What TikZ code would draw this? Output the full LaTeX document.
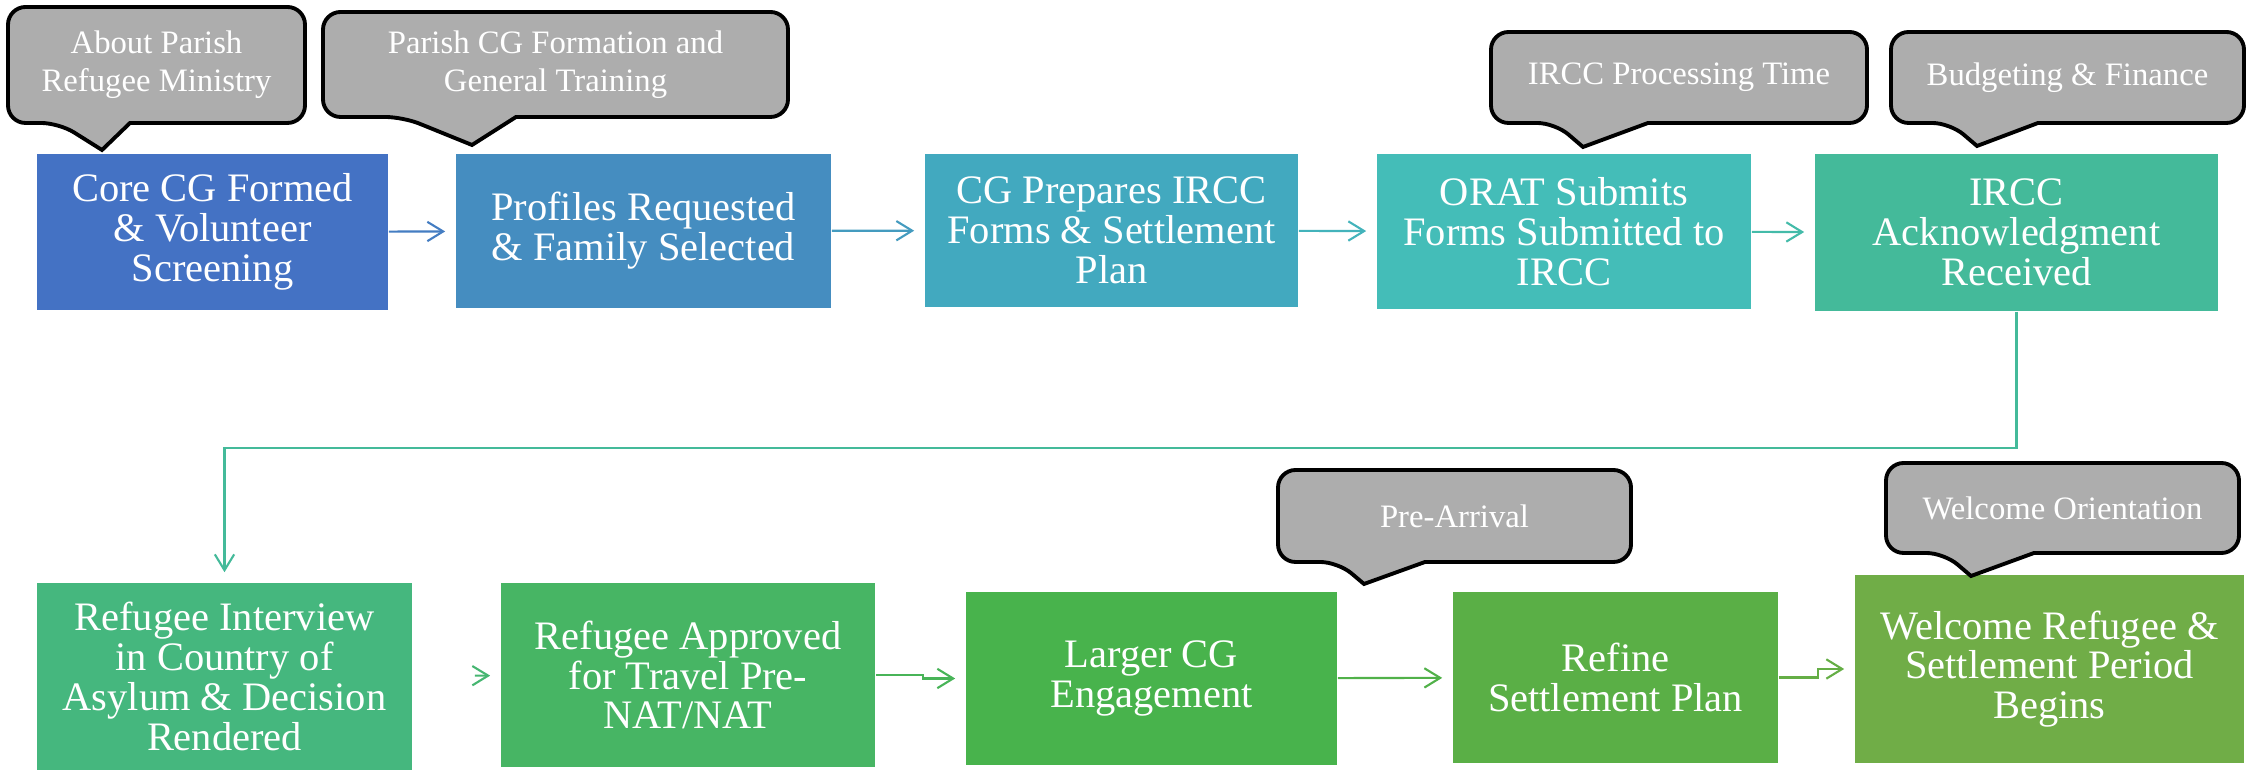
\documentclass[tikz,border=0pt]{standalone}
\usepackage{fontspec}
\setmainfont{Liberation Serif}
\usetikzlibrary{arrows.meta}

\definecolor{st1}{HTML}{4472C4}
\definecolor{st2}{HTML}{458DC0}
\definecolor{st3}{HTML}{42A9BF}
\definecolor{st4}{HTML}{44BDB8}
\definecolor{st5}{HTML}{44BA9A}
\definecolor{st6}{HTML}{45B77E}
\definecolor{st7}{HTML}{47B564}
\definecolor{st8}{HTML}{48B34C}
\definecolor{st9}{HTML}{5AAF46}
\definecolor{st10}{HTML}{70AD47}
\definecolor{notegray}{HTML}{ADADAD}

\begin{document}
\begin{tikzpicture}[x=0.01cm, y=-0.01cm,
  box/.style={fill=#1, text=white, inner sep=0pt, align=center, font=\fontsize{11.5}{11.3}\selectfont},
  bubble/.style={draw=black, fill=notegray, line width=1.1pt, rounded corners=5pt},
  say/.style={text=white, inner sep=0pt, align=center, font=\fontsize{9.3}{10.9}\selectfont},
  flow/.style={draw=#1, line width=0.6pt, -{Straight Barb[length=4.5pt,width=5.5pt]}, shorten >=0.1cm}]
\useasboundingbox (0,0) rectangle (2254,771);

\node[box=st1, minimum width=3.51cm, minimum height=1.56cm] (s1) at (212.5,232) {Core CG Formed\\\& Volunteer\\Screening};
\node[box=st2, minimum width=3.75cm, minimum height=1.54cm] (s2) at (643.5,231) {Profiles Requested\\\& Family Selected};
\node[box=st3, minimum width=3.73cm, minimum height=1.53cm] (s3) at (1111.5,230.5) {CG Prepares IRCC\\Forms \& Settlement\\Plan};
\node[box=st4, minimum width=3.74cm, minimum height=1.55cm] (s4) at (1564,231.5) {ORAT Submits\\Forms Submitted to\\IRCC};
\node[box=st5, minimum width=4.03cm, minimum height=1.57cm] (s5) at (2016.5,232.5) {IRCC\\Acknowledgment\\Received};
\node[box=st6, minimum width=3.75cm, minimum height=1.87cm] (s6) at (224.5,676.5) {Refugee Interview\\in Country of\\Asylum \& Decision\\Rendered};
\node[box=st7, minimum width=3.74cm, minimum height=1.84cm] (s7) at (688,675) {Refugee Approved\\for Travel Pre-\\NAT/NAT};
\node[box=st8, minimum width=3.71cm, minimum height=1.73cm] (s8) at (1151.5,678.5) {Larger CG\\Engagement};
\node[box=st9, minimum width=3.25cm, minimum height=1.71cm] (s9) at (1615.5,677.5) {Refine\\Settlement Plan};
\node[box=st10, minimum width=3.89cm, minimum height=1.88cm] (s10) at (2049.5,669) {Welcome Refugee \&\\Settlement Period\\Begins};

\draw[bubble] (156,7) -| (8,123) -- (59,123) [sharp corners] -- (102,150) -- (130,123) -- (200,123) [rounded corners=5pt] -| (305,7) -- cycle;
\node[say] (n1) at (156.5,65) {About Parish\\Refugee Ministry};
\draw[bubble] (555,12) -| (323,117) -- (403,117) [sharp corners] -- (472,145) -- (516,117) -- (600,117) [rounded corners=5pt] -| (788,12) -- cycle;
\node[say] (n2) at (555.5,64.5) {Parish CG Formation and\\General Training};
\draw[bubble] (1679,32) -| (1491,123) -- (1555,123) [sharp corners] -- (1583,147) -- (1648,123) -- (1700,123) [rounded corners=5pt] -| (1867,32) -- cycle;
\node[say] (n3) at (1679,77.5) {IRCC Processing Time};
\draw[bubble] (2067,32) -| (1891,123) -- (1950,123) [sharp corners] -- (1977,146) -- (2038,123) -- (2100,123) [rounded corners=5pt] -| (2244,32) -- cycle;
\node[say] (n4) at (2067.5,77.5) {Budgeting \& Finance};
\draw[bubble] (1454,470) -| (1278,562) -- (1338,562) [sharp corners] -- (1364,584) -- (1425,562) -- (1500,562) [rounded corners=5pt] -| (1631,470) -- cycle;
\node[say] (n5) at (1454.5,516) {Pre-Arrival};
\draw[bubble] (2062,463) -| (1886,553) -- (1944,553) [sharp corners] -- (1971,576) -- (2034,553) -- (2100,553) [rounded corners=5pt] -| (2239,463) -- cycle;
\node[say] (n6) at (2062.5,508) {Welcome Orientation};

\draw[flow=st1!60!st2] (s1) -- (s2);
\draw[flow=st2!50!st3] (s2) -- (s3);
\draw[flow=st3!50!st4] (s3) -- (s4);
\draw[flow=st4!50!st5] (s4) -- (s5);
\draw[flow=st5] (s5.south) -- ++(0,136) -| (s6.north);
\draw[flow=st6!50!st7, shorten <=0.62cm] (s6) -- (s7);
\draw[flow=st7!50!st8] (s7.east) -- ++(47,0) |- (s8.west);
\draw[flow=st8!50!st9] (s8) -- (s9);
\draw[flow=st9!50!st10] (s9.east) -- ++(39,0) |- (s10.west);
\end{tikzpicture}
\end{document}
